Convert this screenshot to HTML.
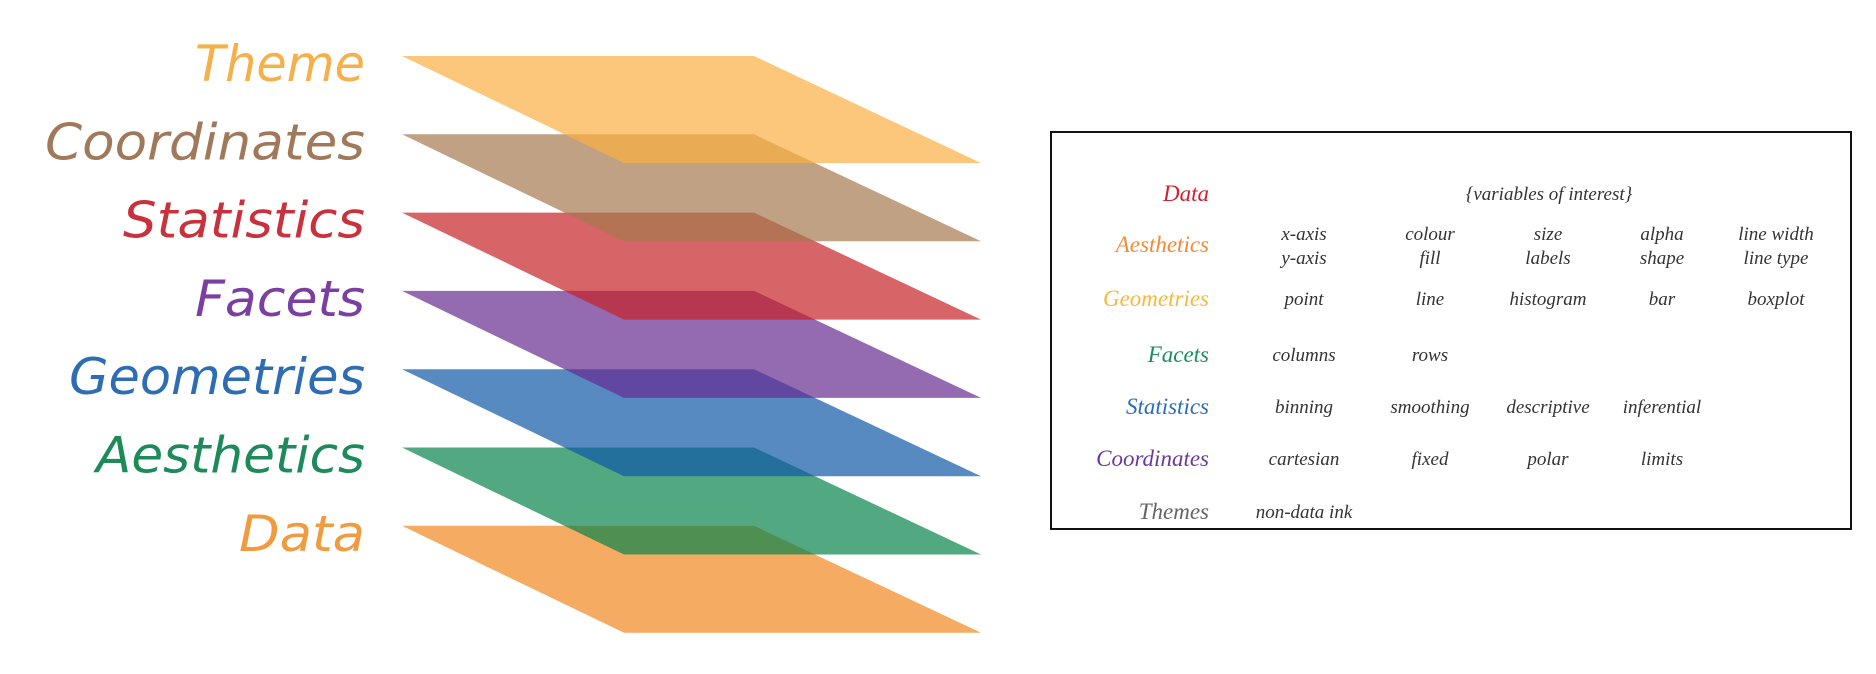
<!DOCTYPE html>
<html><head><meta charset="utf-8"><style>
html,body{margin:0;padding:0;background:#fff;width:1876px;height:674px;overflow:hidden}
svg{display:block}
.lbl{font-family:"DejaVu Sans","Liberation Sans",sans-serif;font-style:italic}
.tb{font-family:"Liberation Serif",serif;font-style:italic}
</style></head><body>
<svg id="chart" width="1876" height="674" viewBox="0 0 1876 674">
<g id="layers"></g>
<g id="table">
<rect x="1051" y="132" width="800" height="397" fill="#fff" stroke="#111" stroke-width="2"/>
</g>
</svg>
<script>
const layerNames=["Theme","Coordinates","Statistics","Facets","Geometries","Aesthetics","Data"];
const layerTextColors=["#f5b04a","#a0785a","#c8323c","#7a3fa0","#2e6db4","#1d8a5a","#f29a40"];
const layerFillColors=["#fbaf41","#a67950","#c62226","#662b90","#0e59a6","#08834c","#f18720"];
const layerLabelWidths=[170,320,242,170,296,269,126];

const rowLabels=["Data","Aesthetics","Geometries","Facets","Statistics","Coordinates","Themes"];
const rowColors=["#d1202f","#f58a35","#f6b93a","#1e8c5e","#2c6eb5","#6a3a9a","#666666"];
const rowItems=[
 [],
 [["x-axis","y-axis"],["colour","fill"],["size","labels"],["alpha","shape"],["line width","line type"]],
 ["point","line","histogram","bar","boxplot"],
 ["columns","rows"],
 ["binning","smoothing","descriptive","inferential"],
 ["cartesian","fixed","polar","limits"],
 ["non-data ink"]
];
const NS="http://www.w3.org/2000/svg";
const lg=document.getElementById('layers');
const tg=document.getElementById('table');
function mk(tag,attrs,parent){const e=document.createElementNS(NS,tag);for(const k in attrs)e.setAttribute(k,attrs[k]);parent.appendChild(e);return e;}
// layers: draw bottom first
const top0=56, step=78.3;
for(let i=layerNames.length-1;i>=0;i--){
  const y=top0+i*step;
  const p=mk('polygon',{points:`402,${y} 754,${y} 981,${y+107} 624,${y+107}`,fill:layerFillColors[i],'fill-opacity':0.7},lg);
  
  
}
for(let i=0;i<layerNames.length;i++){
  const y=top0+i*step+25;
  const t=mk('text',{x:365,y:y,'text-anchor':'end',class:'lbl','font-size':50,fill:layerTextColors[i],textLength:layerLabelWidths[i],lengthAdjust:'spacingAndGlyphs'},lg);
  t.textContent=layerNames[i];
  
  
}
// table
const rowY=[194,245,299,355,407,459,512];
const colX=[1304,1430,1548,1662,1776];
for(let r=0;r<rowLabels.length;r++){
  const t=mk('text',{x:1209,y:rowY[r]+7,'text-anchor':'end',class:'tb','font-size':23,fill:rowColors[r]},tg);
  t.textContent=rowLabels[r];
  
  
  rowItems[r].forEach((it,c)=>{
    if(Array.isArray(it)){
      it.forEach((s,k)=>{
        const e=mk('text',{x:colX[c],y:rowY[r]-5+k*24,'text-anchor':'middle',class:'tb','font-size':19,fill:'#333'},tg);
        e.textContent=s;
        
        
      });
    } else {
      const e=mk('text',{x:colX[c],y:rowY[r]+6,'text-anchor':'middle',class:'tb','font-size':19,fill:'#333'},tg);
      e.textContent=it;
      
      
    }
  });
}
const v=mk('text',{x:1549,y:200,'text-anchor':'middle',class:'tb','font-size':19,fill:'#333'},tg);
v.textContent='{variables of interest}';


</script>
</body></html>
